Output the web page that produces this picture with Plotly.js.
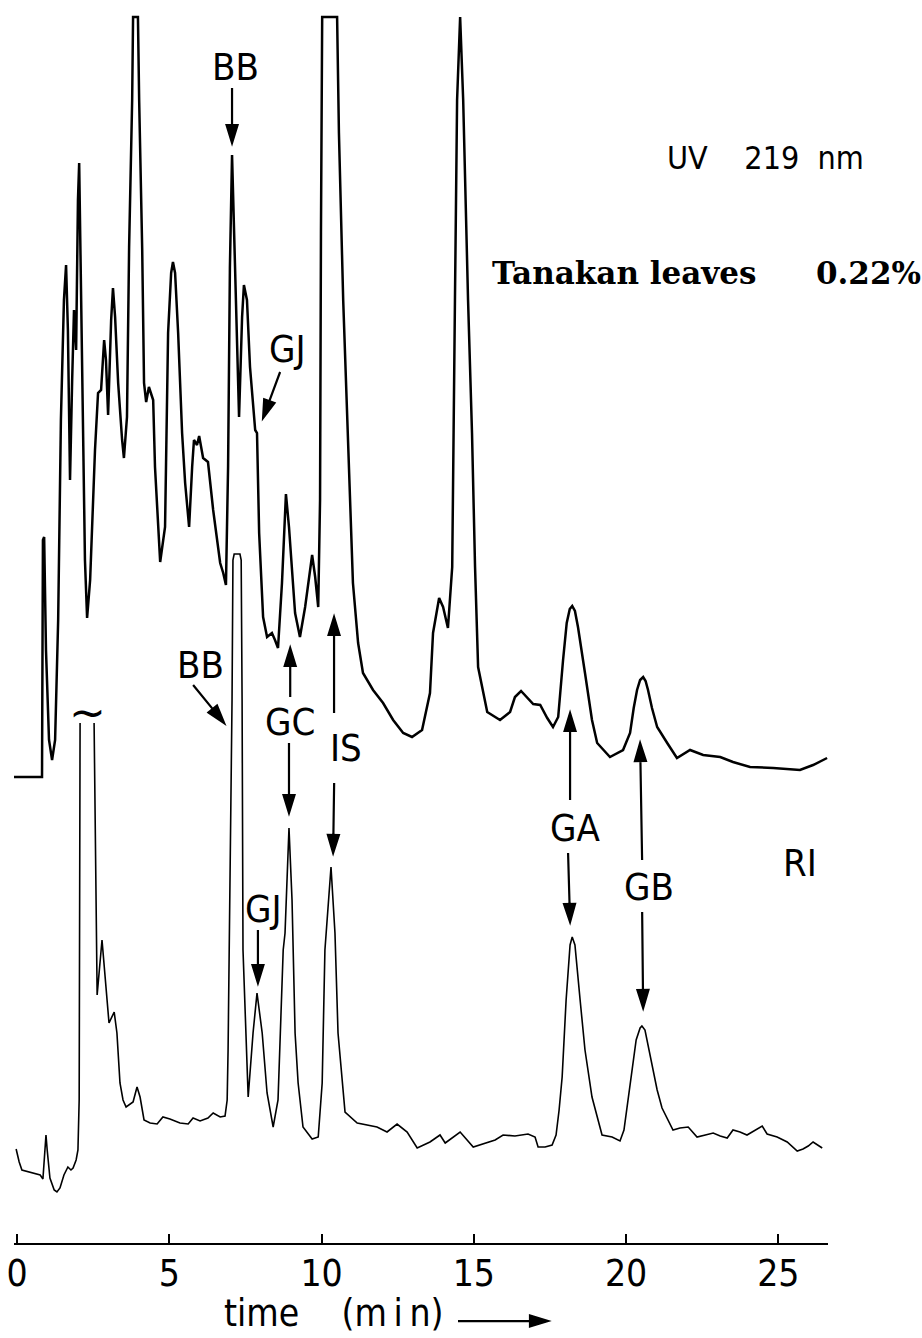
<!DOCTYPE html>
<html>
<head>
<meta charset="utf-8">
<script src="https://cdn.plot.ly/plotly-3.0.1.min.js"></script>
<style>html,body{margin:0;padding:0;background:#fff;}</style>
</head>
<body>
<div id="chart" style="width:922px;height:1338px;"></div>
<script>
// ---- data (time in min, detector signal in arbitrary units) ----
const timeUV = [-0.10,0.82,0.85,0.89,0.95,1.05,1.15,1.25,1.35,1.44,1.54,1.61,1.67,1.74,1.81,1.87,1.94,2.00,2.04,2.10,2.17,2.23,2.30,2.40,2.56,2.66,2.76,2.86,2.92,2.99,3.09,3.15,3.22,3.32,3.45,3.51,3.61,3.68,3.78,3.81,3.97,4.01,4.11,4.17,4.24,4.33,4.47,4.53,4.70,4.86,4.96,5.06,5.12,5.19,5.29,5.42,5.52,5.65,5.75,5.81,5.91,5.98,6.11,6.27,6.44,6.67,6.77,6.86,6.93,6.99,7.06,7.13,7.22,7.29,7.39,7.45,7.55,7.65,7.82,7.88,7.95,8.08,8.21,8.37,8.47,8.57,8.70,8.83,8.93,9.13,9.29,9.46,9.69,9.79,9.89,9.95,9.98,10.02,10.51,10.57,10.71,10.87,11.03,11.20,11.36,11.69,12.02,12.35,12.68,12.97,13.30,13.56,13.66,13.86,13.99,14.15,14.29,14.38,14.45,14.55,14.65,14.81,14.94,15.04,15.14,15.44,15.86,16.19,16.35,16.55,16.75,16.95,17.18,17.41,17.60,17.77,17.93,18.05,18.15,18.23,18.32,18.42,18.65,18.88,19.05,19.47,19.90,20.13,20.25,20.36,20.46,20.56,20.64,20.72,20.85,21.02,21.35,21.67,22.10,22.53,23.09,23.51,24.07,24.83,25.71,26.14,26.60];
const signalUV = [466,466,703,706,593,503,483,503,623,823,943,978,913,763,863,933,893,1043,1080,943,793,683,625,663,793,850,853,903,883,828,923,955,926,860,803,785,826,996,1143,1226,1226,1143,993,860,841,856,843,776,681,716,910,970,981,970,910,810,760,716,776,803,798,807,785,781,733,680,670,658,776,976,1088,1010,910,826,926,958,943,876,813,810,710,626,606,610,603,595,660,749,716,630,606,636,688,666,636,743,1010,1226,1226,1110,943,810,660,600,570,553,540,523,510,506,513,550,610,645,636,615,676,943,1143,1226,1143,943,810,676,576,531,523,531,546,552,545,539,538,525,516,526,583,620,634,637,632,616,570,523,500,486,493,510,535,553,563,566,562,553,535,516,500,485,493,488,486,481,476,475,473,478,485];

const timeRI = [-0.03,0.07,0.16,0.43,0.66,0.76,0.85,0.92,0.95,0.99,1.08,1.22,1.31,1.41,1.54,1.67,1.77,1.84,1.94,2.00,2.04,2.07,2.30,2.53,2.59,2.63,2.79,2.86,2.96,3.02,3.19,3.28,3.38,3.48,3.58,3.81,3.94,4.04,4.17,4.37,4.60,4.79,5.02,5.35,5.62,5.78,6.01,6.27,6.44,6.67,6.83,6.90,6.93,6.99,7.06,7.09,7.13,7.32,7.36,7.39,7.42,7.59,7.75,7.88,8.05,8.21,8.41,8.57,8.74,8.80,8.93,9.03,9.13,9.23,9.39,9.69,9.89,10.02,10.11,10.31,10.44,10.54,10.67,10.77,11.17,11.49,11.82,12.15,12.48,12.81,13.14,13.56,13.89,14.06,14.55,14.98,15.44,15.70,15.96,16.35,16.78,17.01,17.11,17.34,17.57,17.70,17.80,17.90,18.03,18.16,18.23,18.32,18.49,18.65,18.88,19.05,19.21,19.54,19.80,19.93,20.06,20.20,20.33,20.46,20.52,20.62,20.79,21.02,21.18,21.35,21.54,21.77,22.04,22.33,22.59,22.86,23.09,23.32,23.51,23.74,23.97,24.24,24.47,24.63,24.96,25.29,25.62,25.81,25.98,26.14,26.31,26.44];
const signalRI = [94,81,73,71,69,68,64,93,108,93,65,53,51,55,68,76,73,75,83,93,143,520,null,520,310,248,303,276,243,220,231,210,160,143,136,141,156,146,123,120,119,126,124,120,119,125,122,125,130,126,127,143,193,343,543,683,689,689,683,543,293,146,210,250,210,150,116,143,293,310,415,343,210,160,116,104,106,160,293,376,310,210,160,131,120,118,116,111,119,111,95,101,108,100,111,96,100,103,108,107,109,106,96,96,98,108,133,166,243,298,306,298,243,193,146,125,108,106,102,113,143,173,203,215,217,213,188,153,135,125,113,115,116,106,108,110,107,105,113,111,108,113,117,109,106,101,92,94,97,101,98,95];

const tickValues = [0, 5, 10, 15, 20, 25];
const tickLabels = ['0', '5', '10', '15', '20', '25'];
const peakLabels = ['BB', 'GJ', 'BB', 'GC', 'IS', 'GJ', 'GA', 'GB'];
const detectorLabels = ['UV\u00a0\u00a0\u00a0\u00a0219\u00a0\u00a0nm', 'RI'];
const sampleLabel = 'Tanakan leaves';
const sampleValue = '0.22%';
const axisTitle = 'time\u00a0\u00a0\u00a0\u00a0(m\u2009i\u2009n)';

// ---- styling ----
const STENCIL = '"Liberation Sans Narrow", "DejaVu Sans Condensed", "Arial Narrow", sans-serif';
const SERIF = '"DejaVu Serif", "Liberation Serif", serif';

function lbl(text, x, y, size, extra) {
  return Object.assign({text: text, x: x, y: y, xref: 'x', yref: 'y', showarrow: false,
    xanchor: 'center', yanchor: 'middle',
    font: {family: STENCIL, size: size || 38, color: '#000'}}, extra || {});
}

// arrow as a pixel-sized path shape anchored at its head; dx/dy = tail offset in screen px
function arrow(xh, yh, dx, dy, xref, yref) {
  const len = Math.hypot(dx, dy);
  const ux = -dx / len, uy = -dy / len;
  const L = 18, W = 5.5;
  const bx = -ux * L, by = -uy * L;
  const nx = -uy, ny = ux;
  const f = v => v.toFixed(2);
  const P = (x, y) => f(x) + ',' + f(-y);
  const path = 'M' + P(dx, dy) + 'L' + P(bx + ux * 3, by + uy * 3) +
    'M' + P(bx + nx * W, by + ny * W) + 'L0,0L' + P(bx - nx * W, by - ny * W) + 'Z';
  return {type: 'path', xref: xref || 'x', yref: yref || 'y', xsizemode: 'pixel', ysizemode: 'pixel',
    xanchor: xh, yanchor: yh, path: path, line: {color: '#000', width: 2.2}, fillcolor: '#000', layer: 'above'};
}

const traces = [
  {x: timeUV, y: signalUV, type: 'scatter', mode: 'lines', name: 'UV 219 nm',
   line: {color: '#000', width: 2.5}, hoverinfo: 'skip'},
  {x: timeRI, y: signalRI, type: 'scatter', mode: 'lines', name: 'RI', connectgaps: false,
   line: {color: '#000', width: 1.6}, hoverinfo: 'skip'}
];

const annotations = [
  lbl(peakLabels[0], 7.16, 1176),
  lbl(peakLabels[1], 8.87, 894),
  lbl(peakLabels[2], 6.04, 578),
  lbl(peakLabels[3], 8.97, 521),
  lbl(peakLabels[4], 10.80, 495),
  lbl(peakLabels[5], 8.08, 334),
  lbl(peakLabels[6], 18.32, 415),
  lbl(peakLabels[7], 20.75, 356),
  lbl(detectorLabels[1], 25.71, 380),
  lbl(detectorLabels[0], 21.28, 1085, 32, {xanchor: 'left'}),
  lbl('~', 2.30, 531, 44, {font: {family: '"DejaVu Sans", sans-serif', size: 44, color: '#000'}}),
  lbl(sampleLabel, 15.53, 970, 31, {xanchor: 'left', font: {family: SERIF, size: 31, color: '#000', weight: 'bold'}}),
  lbl(sampleValue, 26.17, 970, 31, {xanchor: 'left', font: {family: SERIF, size: 31, color: '#000', weight: 'bold'}}),
  {text: axisTitle, xref: 'paper', yref: 'paper', x: (222 - 14) / 814, y: -0.0571, xanchor: 'left', yanchor: 'middle',
   showarrow: false, font: {family: STENCIL, size: 37, color: '#000'}}
];

const shapes = [
  arrow(7.06, 1100, 0, -55),
  arrow(8.08, 825, 17, -46),
  arrow(6.80, 520, -31, -38),
  arrow(8.97, 595, 0, 49),
  arrow(8.93, 430, 0, -70),
  arrow(10.41, 626, 0, 96),
  arrow(10.38, 390, 1, -70),
  arrow(7.91, 260, 0, -53),
  arrow(18.16, 530, 0, 87),
  arrow(18.16, 321, -2, -69),
  arrow(20.46, 500, 2, 117),
  arrow(20.56, 235, -1, -96),
  arrow((548 - 14) / 814, -0.0628, -90, 0, 'paper', 'paper')
];

const layout = {
  width: 922, height: 1338,
  margin: {l: 14, r: 94, t: 0, b: 95, pad: 0},
  paper_bgcolor: '#fff', plot_bgcolor: '#fff', showlegend: false,
  xaxis: {range: [-0.1, 26.63], showline: true, linewidth: 2, linecolor: '#000', mirror: false,
    ticks: 'inside', ticklen: 9, tickwidth: 2, tickcolor: '#000',
    tickvals: tickValues, ticktext: tickLabels, showgrid: false, zeroline: false,
    tickfont: {family: STENCIL, size: 37, color: '#000'}, ticklabelstandoff: -3, fixedrange: true},
  yaxis: {range: [0, 1243], visible: false, showgrid: false, zeroline: false, fixedrange: true},
  annotations: annotations,
  shapes: shapes
};

Plotly.newPlot('chart', traces, layout, {displayModeBar: false, staticPlot: true});
</script>
</body>
</html>
